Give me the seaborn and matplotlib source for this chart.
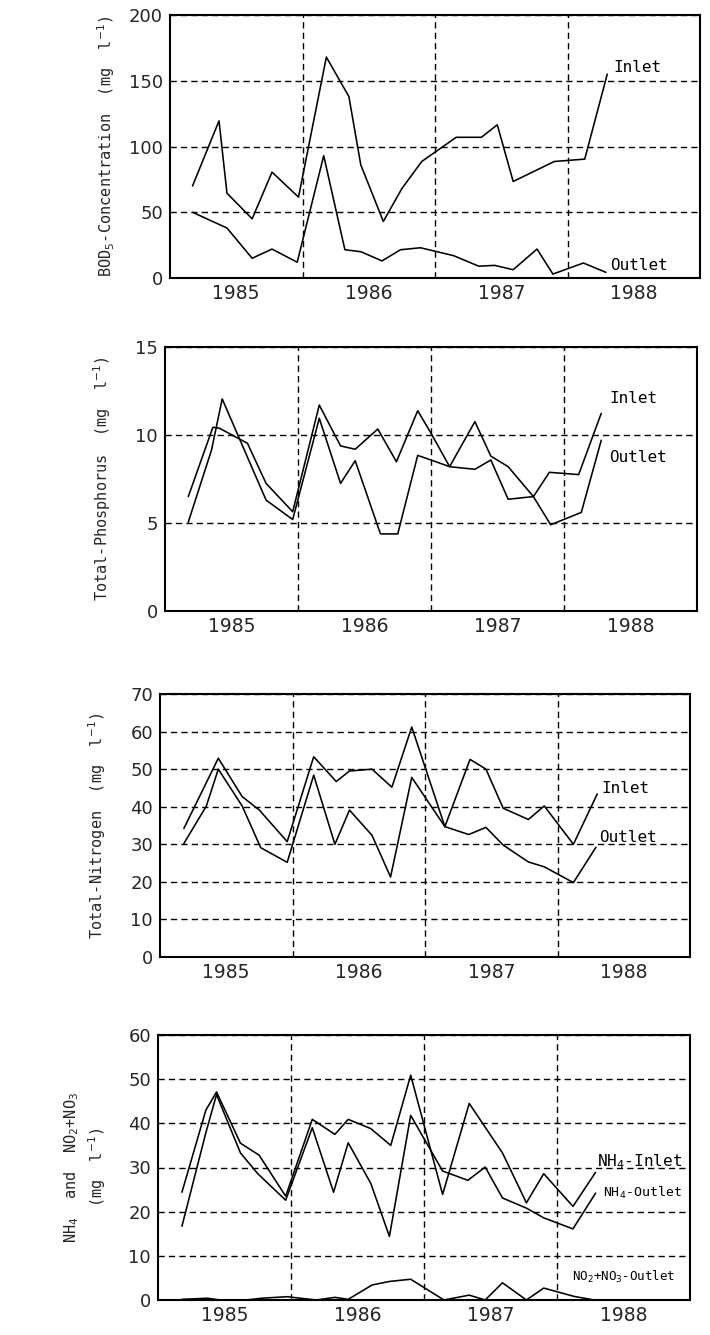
import matplotlib
matplotlib.use("Agg")
import matplotlib.pyplot as plt
import seaborn as sns
import pandas as pd
from matplotlib.ticker import MultipleLocator, FixedLocator

sns.set_style("white")
plt.rcParams['font.family'] = ['DejaVu Sans']
plt.rcParams['mathtext.fontset'] = 'dejavusans'

# ---------------- data ----------------
years = [1985, 1986, 1987, 1988]

bod_in_t = [1985.17, 1985.37, 1985.43, 1985.62, 1985.77, 1985.97, 1986.18, 1986.35, 1986.44, 1986.61,
            1986.75, 1986.90, 1987.16, 1987.35, 1987.47, 1987.59, 1987.90, 1988.13, 1988.30]
bod_in = [70, 119.5, 64.5, 45, 80.5, 61.5, 168, 138, 86, 43, 68, 88.6, 107, 107, 116.5, 73.4, 88.6, 90.4, 155]
bod_out_t = [1985.17, 1985.43, 1985.62, 1985.77, 1985.96, 1986.16, 1986.32, 1986.44, 1986.60, 1986.74,
             1986.89, 1987.14, 1987.33, 1987.45, 1987.59, 1987.77, 1987.89, 1988.12, 1988.29]
bod_out = [50, 38, 15, 22, 12, 93, 21.5, 20, 13, 21.5, 23, 17, 9, 9.6, 6.3, 22, 3, 11.4, 4.3]

tp_in_t = [1985.175, 1985.36, 1985.41, 1985.62, 1985.76, 1985.96, 1986.16, 1986.32, 1986.43, 1986.60, 1986.74,
           1986.90, 1987.00, 1987.14, 1987.33, 1987.45, 1987.58, 1987.77, 1987.89, 1988.11, 1988.28]
tp_in = [6.5, 10.44, 10.38, 9.53, 7.25, 5.64, 11.7, 9.38, 9.19, 10.34, 8.48,
         11.38, 10.1, 8.2, 10.76, 8.8, 8.2, 6.5, 7.88, 7.75, 11.23]
tp_out_t = [1985.175, 1985.35, 1985.43, 1985.76, 1985.96, 1986.16, 1986.32, 1986.43, 1986.62, 1986.75,
            1986.90, 1987.00, 1987.14, 1987.33, 1987.45, 1987.58, 1987.77, 1987.90, 1988.13, 1988.28]
tp_out = [5.05, 9.15, 12.05, 6.3, 5.2, 10.95, 7.25, 8.54, 4.38, 4.38,
          8.84, 8.58, 8.2, 8.05, 8.58, 6.35, 6.5, 4.9, 5.6, 9.7]

tn_in_t = [1985.18, 1985.44, 1985.62, 1985.75, 1985.96, 1986.16, 1986.33, 1986.43, 1986.60, 1986.75,
           1986.90, 1987.15, 1987.34, 1987.46, 1987.59, 1987.78, 1987.90, 1988.12, 1988.30]
tn_in = [34.2, 52.9, 42.7, 39.1, 30.7, 53.3, 46.7, 49.5, 50, 45.2, 61.2, 34.7, 52.6, 50, 39.6, 36.6, 40.2, 30.0, 43.4]
tn_out_t = [1985.18, 1985.35, 1985.44, 1985.62, 1985.76, 1985.96, 1986.16, 1986.32, 1986.43, 1986.60,
            1986.74, 1986.90, 1987.15, 1987.33, 1987.46, 1987.59, 1987.78, 1987.90, 1988.12, 1988.29]
tn_out = [30.2, 40.2, 50, 40.2, 29.1, 25.2, 48.4, 30.0, 39.1, 32.4, 21.3, 47.8, 34.7, 32.6, 34.5, 29.8, 25.3, 24.0, 19.8, 29.2]

nh4_in_t = [1985.18, 1985.36, 1985.44, 1985.62, 1985.76, 1985.96, 1986.16, 1986.33, 1986.43, 1986.60,
            1986.75, 1986.90, 1987.14, 1987.34, 1987.59, 1987.77, 1987.90, 1988.12, 1988.29]
nh4_in = [24.4, 43.0, 47.1, 35.5, 32.8, 23.5, 40.9, 37.5, 40.9, 38.8, 35.0, 50.9, 23.9, 44.5, 33.3, 22.0, 28.6, 21.2, 28.9]
nh4_out_t = [1985.18, 1985.36, 1985.44, 1985.62, 1985.75, 1985.96, 1986.16, 1986.32, 1986.43, 1986.60,
             1986.74, 1986.90, 1987.14, 1987.33, 1987.46, 1987.59, 1987.77, 1987.90, 1988.12, 1988.29]
nh4_out = [16.7, 37.9, 46.5, 33.3, 28.6, 22.6, 39.0, 24.4, 35.6, 26.4, 14.4, 41.8, 29.2, 27.1, 30.1, 23.1, 20.8, 18.6, 16.1, 24.2]
nox_out_t = [1985.18, 1985.37, 1985.47, 1985.66, 1985.78, 1985.97, 1986.19, 1986.33, 1986.43, 1986.61,
             1986.74, 1986.90, 1987.15, 1987.34, 1987.46, 1987.59, 1987.77, 1987.90, 1988.13, 1988.28]
nox_out = [0.15, 0.4, 0, 0, 0.4, 0.75, 0, 0.6, 0.15, 3.4, 4.2, 4.7, 0, 1.1, 0, 3.9, 0, 2.7, 0.8, 0]

# ---------------- figure ----------------
W, H = 710, 1335
fig = plt.figure(figsize=(W / 100, H / 100), dpi=100)
fig.patch.set_facecolor('white')


def px_axes(l, t, r, b):
    return fig.add_axes([l / W, 1 - b / H, (r - l) / W, (b - t) / H])


panels = [
    dict(box=(170, 15, 700, 278), ylim=200, major=50, minor=10,
         ylabel=r'BOD$_5$-Concentration  (mg  l$^{-1}$)', lx=-0.100,
         series=[(bod_in_t, bod_in), (bod_out_t, bod_out)],
         labels=[('Inlet', 1988.53, 160, 11.5), ('Outlet', 1988.54, 9.6, 11.5)]),
    dict(box=(165, 347, 697, 611), ylim=15, major=5, minor=1,
         ylabel=r'Total-Phosphorus  (mg  l$^{-1}$)', lx=-0.098,
         series=[(tp_in_t, tp_in), (tp_out_t, tp_out)],
         labels=[('Inlet', 1988.52, 12.1, 11.5), ('Outlet', 1988.56, 8.7, 11.5)]),
    dict(box=(160, 694, 690, 957), ylim=70, major=10, minor=2,
         ylabel=r'Total-Nitrogen  (mg  l$^{-1}$)', lx=-0.098,
         series=[(tn_in_t, tn_in), (tn_out_t, tn_out)],
         labels=[('Inlet', 1988.51, 44.9, 11.5), ('Outlet', 1988.53, 31.8, 11.5)]),
    dict(box=(158, 1035, 690, 1300), ylim=60, major=10, minor=2,
         ylabel='NH$_4$  and  NO$_2$+NO$_3$\n(mg  l$^{-1}$)', lx=-0.094,
         series=[(nh4_in_t, nh4_in), (nh4_out_t, nh4_out), (nox_out_t, nox_out)],
         labels=[('NH$_4$-Inlet', 1988.62, 31.4, 11.5), ('NH$_4$-Outlet', 1988.64, 24.2, 9.5),
                 ('NO$_2$+NO$_3$-Outlet', 1988.50, 5.2, 9.0)]),
]

dash = (0, (4.5, 3))
for p in panels:
    ax = px_axes(*p['box'])
    for t, v in p['series']:
        df = pd.DataFrame({'t': t, 'v': v})
        sns.lineplot(data=df, x='t', y='v', ax=ax, color='black', linewidth=1.15,
                     estimator=None, sort=False)
    ax.set_xlim(1985.0, 1989.0)
    ax.set_ylim(0, p['ylim'])
    ax.set_xticks([y + 0.5 for y in years])
    ax.set_xticklabels([str(y) for y in years], fontsize=13.5)
    ax.xaxis.set_minor_locator(FixedLocator(years[1:]))
    ax.tick_params(axis='x', which='both', length=0, pad=4)
    ax.yaxis.set_major_locator(MultipleLocator(p['major']))
    ax.yaxis.set_minor_locator(MultipleLocator(p['minor']))
    ax.tick_params(axis='y', which='major', direction='inout', length=6, width=1.0,
                   labelsize=13, pad=2)
    ax.tick_params(axis='y', which='minor', direction='in', length=3, width=0.9)
    ax.grid(False)
    ax.grid(True, axis='y', which='major', color='black', linestyle=dash, linewidth=1.0)
    ax.grid(True, axis='x', which='minor', color='black', linestyle=dash, linewidth=1.0)
    ax.set_axisbelow(True)
    for s in ax.spines.values():
        s.set_visible(True)
        s.set_color('black')
        s.set_linewidth(1.5)
    ax.set_xlabel('')
    ax.set_ylabel(p['ylabel'], fontsize=11, family='DejaVu Sans Mono', linespacing=1.3)
    ax.yaxis.set_label_coords(p['lx'], 0.5)
    for txt, x, y, fs in p['labels']:
        ax.text(x, y, txt, fontsize=fs, family='DejaVu Sans Mono',
                ha='center', va='center', color='black')

fig.savefig('out.png', dpi=100, facecolor='white')
